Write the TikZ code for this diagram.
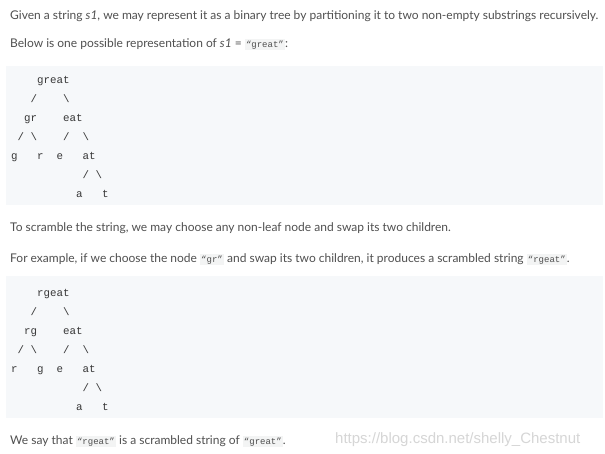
\documentclass[tikz,border=0pt]{standalone}
\usepackage{fontspec}
\setmainfont{Lato}
\setmonofont{Liberation Mono}
\newfontfamily\watermarkfont{Liberation Sans}
\definecolor{bodygray}{RGB}{80,80,80}
\definecolor{codetext}{RGB}{55,55,55}
\definecolor{codebg}{RGB}{246,248,250}
\definecolor{inlinebg}{RGB}{243,244,244}
\definecolor{markgray}{RGB}{214,214,214}
\newcommand{\inl}[1]{{\setlength{\fboxsep}{1.2pt}\colorbox{inlinebg}{\fontsize{9}{10}\ttfamily “#1”}}}
\tikzset{
  txt/.style={anchor=base west, inner sep=0pt, text=bodygray, font=\fontsize{12}{14}\selectfont},
  code/.style={anchor=base west, inner sep=0pt, text=codetext, font=\fontsize{10.8}{13}\ttfamily},
  codebox/.style={fill=codebg, draw=none}
}
\begin{document}
\begin{tikzpicture}[x=1pt,y=1pt,yscale=-1,xscale=1]
\useasboundingbox (0,0) rectangle (605,453);
\fill[white] (0,0) rectangle (605,453);

% intro
\node[txt] (intro) at (10,19) {Given a string \textit{s1}, we may represent it as a binary tree by partitioning it to two non-empty substrings recursively.};
\node[txt] (below) at (10,47) {Below is one possible representation of \textit{s1} = \inl{great}:};

% first tree
\fill[codebox] (6,66) rectangle (603,205);
\node[code] (g) at (37,83) {great};
\node[code] (gl) at (30.5,102) {/};
\node[code] (gr) at (63,102) {\textbackslash};
\node[code] (gr2) at (24,121) {gr};
\node[code] (eat) at (63,121) {eat};
\node[code] (grl) at (17.5,140) {/};
\node[code] (grr) at (30.5,140) {\textbackslash};
\node[code] (eatl) at (63,140) {/};
\node[code] (eatr) at (82.5,140) {\textbackslash};
\node[code] (lg) at (11,159) {g};
\node[code] (lr) at (37,159) {r};
\node[code] (le) at (56.5,159) {e};
\node[code] (at) at (82.5,159) {at};
\node[code] (atl) at (82.5,178) {/};
\node[code] (atr) at (95.5,178) {\textbackslash};
\node[code] (la) at (76,197) {a};
\node[code] (lt) at (102,197) {t};

% swap
\node[txt] (scramble) at (10,231) {To scramble the string, we may choose any non-leaf node and swap its two children.};
\node[txt] (example) at (10,262) {For example, if we choose the node \inl{gr} and swap its two children, it produces a scrambled string \inl{rgeat}.};

% second tree
\fill[codebox] (6,276) rectangle (603,418);
\node[code] (rg) at (37,296) {rgeat};
\node[code] (rgl) at (30.5,315) {/};
\node[code] (rgr) at (63,315) {\textbackslash};
\node[code] (rg2) at (24,334) {rg};
\node[code] (eat2) at (63,334) {eat};
\node[code] (rg2l) at (17.5,353) {/};
\node[code] (rg2r) at (30.5,353) {\textbackslash};
\node[code] (eat2l) at (63,353) {/};
\node[code] (eat2r) at (82.5,353) {\textbackslash};
\node[code] (mr) at (11,372) {r};
\node[code] (mg) at (37,372) {g};
\node[code] (me) at (56.5,372) {e};
\node[code] (at2) at (82.5,372) {at};
\node[code] (at2l) at (82.5,391) {/};
\node[code] (at2r) at (95.5,391) {\textbackslash};
\node[code] (ma) at (76,410) {a};
\node[code] (mt) at (102,410) {t};

\node[txt] (say) at (10,444) {We say that \inl{rgeat} is a scrambled string of \inl{great}.};
\node[anchor=base west, inner sep=0pt, text=markgray, font=\fontsize{15}{17}\watermarkfont] (mark) at (335,443) {https://blog.csdn.net/shelly\_Chestnut};
\end{tikzpicture}
\end{document}
